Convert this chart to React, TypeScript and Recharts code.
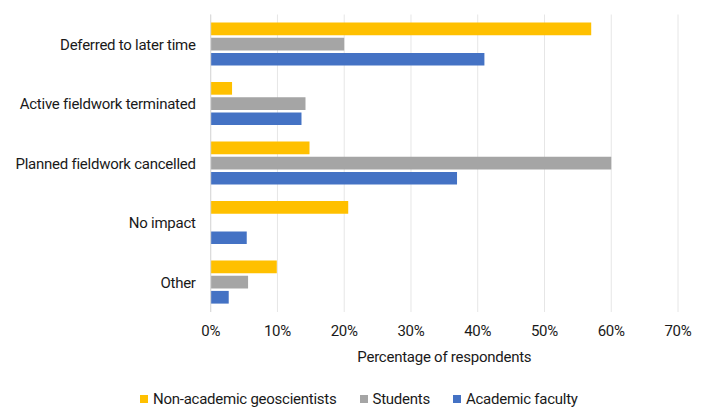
import React from 'react';
import { BarChart, Bar, XAxis, YAxis, CartesianGrid, Legend } from 'recharts';

const categories = [
  'Deferred to later time',
  'Active fieldwork terminated',
  'Planned fieldwork cancelled',
  'No impact',
  'Other',
];
const nonAcademic = [57, 3.2, 14.8, 20.6, 9.9];
const students = [20, 14.2, 60, 0, 5.6];
const academic = [41, 13.6, 36.9, 5.4, 2.7];
const xTicks = [0, 10, 20, 30, 40, 50, 60, 70];

const seriesNames = ['Non-academic geoscientists', 'Students', 'Academic faculty'];
const colors = ['#FFC000', '#A5A5A5', '#4472C4'];

const data = categories.map((c, i) => ({
  category: c,
  nonAcademic: nonAcademic[i],
  students: students[i],
  academic: academic[i],
}));

const FONT = 'Roboto, sans-serif';
const TEXT = '#1a1a1a';
const LS = -0.25;

const renderLegend = () => (
  <div
    style={{
      display: 'flex',
      justifyContent: 'flex-start',
      paddingLeft: 140,
      fontFamily: FONT,
      fontSize: 15,
      letterSpacing: LS,
      color: TEXT,
      lineHeight: '18px',
      whiteSpace: 'nowrap',
    }}
  >
    {seriesNames.map((name, i) => (
      <div key={name} style={{ display: 'flex', alignItems: 'center', marginRight: i < seriesNames.length - 1 ? 23 : 0 }}>
        <span style={{ display: 'inline-block', width: 8, height: 8, background: colors[i], marginRight: 5 }} />
        <span>{name}</span>
      </div>
    ))}
  </div>
);

export default function App() {
  return (
    <div style={{ position: 'absolute', left: 0, top: 0, width: 704, height: 407 }}>
      <BarChart
        width={704}
        height={407}
        data={data}
        layout="vertical"
        margin={{ top: 14.5, right: 26, bottom: 20, left: 0 }}
        barSize={12.7}
        barGap={2.5}
      >
        <CartesianGrid horizontal={false} stroke="#e6e6e6" />
        <XAxis
          type="number"
          domain={[0, 70]}
          ticks={xTicks}
          tickFormatter={(v: number) => `${v}%`}
          axisLine={false}
          tickLine={false}
          tickSize={0}
          tickMargin={13}
          height={57}
          tick={{ fill: TEXT, fontSize: 15, fontFamily: FONT, letterSpacing: LS }}
          label={{
            value: 'Percentage of respondents',
            position: 'insideBottom',
            offset: 7,
            fill: TEXT,
            fontSize: 15,
            fontFamily: FONT,
            letterSpacing: LS,
          }}
        />
        <YAxis
          type="category"
          dataKey="category"
          width={210.7}
          axisLine={{ stroke: '#d9d9d9' }}
          tickLine={false}
          tickSize={0}
          tickMargin={15}
          tick={{ fill: TEXT, fontSize: 15, fontFamily: FONT, letterSpacing: LS }}
        />
        <Legend
          verticalAlign="bottom"
          content={renderLegend}
          wrapperStyle={{ top: 390, bottom: 'auto', left: 0, width: 704 }}
        />
        <Bar dataKey="nonAcademic" name={seriesNames[0]} fill={colors[0]} isAnimationActive={false} />
        <Bar dataKey="students" name={seriesNames[1]} fill={colors[1]} isAnimationActive={false} />
        <Bar dataKey="academic" name={seriesNames[2]} fill={colors[2]} isAnimationActive={false} />
      </BarChart>
    </div>
  );
}
